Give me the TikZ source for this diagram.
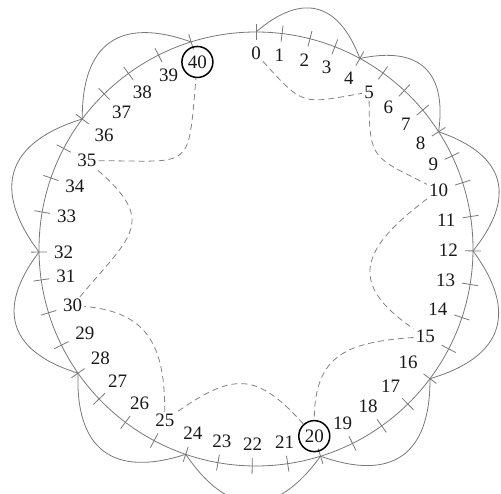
\documentclass[tikz,border=0pt]{standalone}
\usepackage{fontspec}
\setmainfont{Liberation Serif}
\usetikzlibrary{calc}
\definecolor{linegray}{RGB}{120,120,120}
\definecolor{dashgray}{RGB}{130,130,130}
\begin{document}
\begin{tikzpicture}[x=1pt,y=1pt,
  circ/.style={draw=linegray, line width=0.8pt},
  tickmark/.style={draw=linegray, line width=0.8pt},
  hop/.style={draw=linegray, line width=0.8pt, bend left=55, looseness=1.45},
  skip/.style={draw=dashgray, line width=0.8pt, dash pattern=on 6pt off 4pt},
  lab/.style={font=\fontsize{19}{21}\selectfont, inner sep=2pt, text=black!90},
  ring/.style={lab, circle, draw=black, line width=1.5pt, inner sep=1pt, minimum size=31pt}
]
\useasboundingbox (0,0) rectangle (501,493);
\coordinate (c) at (256,244);
\draw[circ] (c) circle (217);
\foreach \k/\a in {0/90, 1/83.1, 2/75.6, 3/68.7, 4/61.4, 5/54.2, 6/46.9, 7/39.8, 8/32.7, 9/25.4, 10/17.8, 11/8.6, 12/-0.5, 13/-9.4, 14/-18.4, 15/-27.4, 16/-36.7, 17/-45.6, 18/-54.6, 19/-63.6, 20/-72.7, 21/-81.6, 22/-91, 23/-100.1, 24/-108.9, 25/-118, 26/-127, 27/-136.3, 28/-145.1, 29/-153.7, 30/-162.9, 31/-171.8, 32/-179.2, 33/-189.8, 34/-199.1, 35/-207.6, 36/-216.8, 37/-225.6, 38/-234, 39/-243.3, 40/-252.6}{
  \pgfmathsetmacro\b{mod(\a+360,360)}
  \coordinate (p\k) at ($(c)+(\a:217)$);
  \draw[tickmark] ($(c)+(\a:209)$) -- ($(c)+(\a:225)$);
  \ifnum\k=20
    \node[ring] (l\k) at ($(c)+(\a:196)$) {\k};
  \else\ifnum\k=40
    \node[ring] (l\k) at ($(c)+(\a:196)$) {\k};
  \else
    \node[lab, anchor=\b] (l\k) at ($(c)+(\a:204)$) {\k};
  \fi\fi
}
\foreach \a/\b in {0/4,4/8,8/12,12/16,16/20,20/24,24/28,28/32,32/36,36/40}
  \draw[hop] (p\a) to (p\b);
\foreach \a/\b/\o/\i/\l in {0/5/-48/190/1.5, 5/10/-90/153/1.5, 10/15/-143/146/1.6, 15/20/184/90/1.3, 20/25/132/35/1.4, 25/30/90/-5/1.25, 30/35/50/-41/1.6, 35/40/0/-95/1.9}
  \draw[skip] (l\a) to[out=\o, in=\i, looseness=\l] (l\b);
\end{tikzpicture}
\end{document}
